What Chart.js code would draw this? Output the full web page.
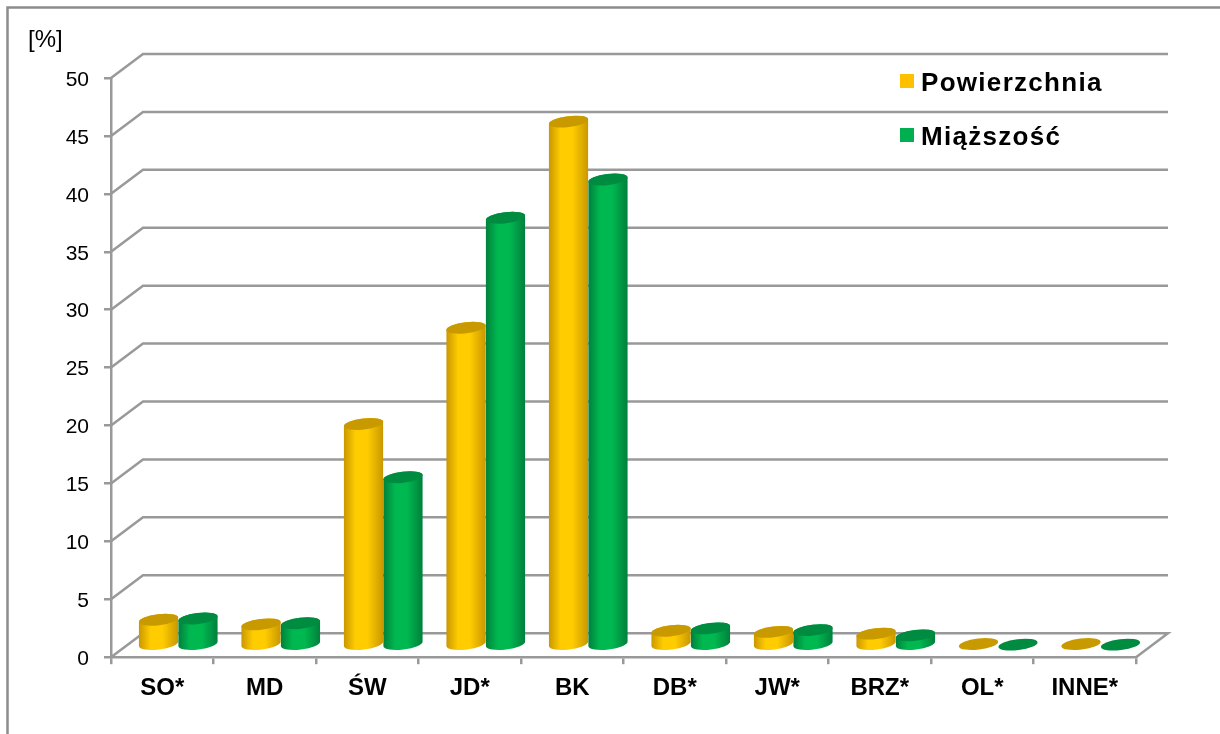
<!DOCTYPE html>
<html>
<head>
<meta charset="utf-8">
<style>
  html, body { margin: 0; padding: 0; background: #fff; }
  #wrap { position: absolute; left: 0; top: 0; width: 1220px; height: 734px; }
</style>
<script src="https://cdn.jsdelivr.net/npm/chart.js@4"></script>
</head>
<body>
<div id="wrap"><canvas id="woodChart" width="1220" height="734"></canvas></div>
<script>
const categories = ['SO*', 'MD', 'ŚW', 'JD*', 'BK', 'DB*', 'JW*', 'BRZ*', 'OL*', 'INNE*'];
const powierzchnia = [2.2, 1.8, 19.1, 27.4, 45.2, 1.25, 1.15, 1.0, 0.1, 0.1];
const miazszosc = [2.3, 1.9, 14.5, 36.9, 40.2, 1.45, 1.3, 0.85, 0.05, 0.05];
const yTicks = [0, 5, 10, 15, 20, 25, 30, 35, 40, 45, 50];
const unitLabel = '[%]';

const GRID = '#999999';
const DEPTH_X = 32, DEPTH_Y = 24; // shift of the back wall
const RY = 5.5, TILT = -0.12;

// back wall and floor, behind the bars
const wallPlugin = {
    id: 'wall',
    beforeDatasetsDraw(chart) {
        const { ctx, scales: { x, y } } = chart;
        ctx.save();
        ctx.strokeStyle = GRID;
        ctx.lineWidth = 2.5;
        yTicks.forEach(t => {
            const py = y.getPixelForValue(t);
            ctx.beginPath();
            ctx.moveTo(x.left, py);
            ctx.lineTo(x.left + DEPTH_X, py - DEPTH_Y);
            ctx.lineTo(x.right + DEPTH_X, py - DEPTH_Y);
            if (t === 0) ctx.lineTo(x.right, py);
            ctx.stroke();
        });
        ctx.restore();
    }
};

function cylinderGradient(ctx, bar, stops) {
    const half = bar.width / 2;
    const g = ctx.createLinearGradient(bar.x - half, 0, bar.x + half, 0);
    g.addColorStop(0, stops[0]);
    g.addColorStop(0.3, stops[1]);
    g.addColorStop(0.6, stops[1]);
    g.addColorStop(1, stops[0]);
    return g;
}

// bars stand in the middle of the floor and are drawn as cylinders
const cylinderPlugin = {
    id: 'cylinders',
    afterDatasetsDraw(chart) {
        const ctx = chart.ctx;
        const order = [];
        chart.data.datasets.forEach((ds, i) => {
            chart.getDatasetMeta(i).data.forEach((bar, j) => order.push({ ds, bar, j, i }));
        });
        order.sort((a, b) => a.j - b.j || a.i - b.i);
        ctx.save();
        ctx.translate(DEPTH_X / 2, -DEPTH_Y / 2);
        order.forEach(({ ds, bar }) => {
            const rx = bar.width / 2;
            ctx.beginPath();
            ctx.ellipse(bar.x, bar.y, rx, RY, TILT, Math.PI, 0, false);
            ctx.ellipse(bar.x, bar.base, rx, RY, TILT, 0, Math.PI, false);
            ctx.closePath();
            if (bar.base - bar.y > 3) {
                ctx.fillStyle = cylinderGradient(ctx, bar, ds.sideColors);
                ctx.fill();
            }
            ctx.beginPath();
            ctx.ellipse(bar.x, bar.y, rx, RY, TILT, 0, Math.PI * 2);
            ctx.fillStyle = ds.topColor;
            ctx.fill();
        });
        ctx.restore();
    }
};

// frame, unit label and the legend inside the wall
const decorPlugin = {
    id: 'decor',
    afterDraw(chart) {
        const ctx = chart.ctx;
        ctx.save();
        ctx.strokeStyle = '#8c8c8c';
        ctx.lineWidth = 2.5;
        ctx.beginPath();
        ctx.moveTo(7.5, 734);
        ctx.lineTo(7.5, 7.5);
        ctx.lineTo(1220, 7.5);
        ctx.stroke();

        ctx.fillStyle = '#000';
        ctx.textAlign = 'left';
        ctx.textBaseline = 'alphabetic';
        ctx.font = '24px "Liberation Sans"';
        ctx.fillText(unitLabel, 28, 47);

        ctx.font = 'bold 26px "Liberation Sans"';
        ctx.letterSpacing = '1.3px';
        chart.data.datasets.forEach((ds, i) => {
            const top = 74 + i * 54;
            ctx.fillStyle = ds.legendColor;
            ctx.fillRect(900, top, 14, 14);
            ctx.fillStyle = '#000';
            ctx.fillText(ds.label, 921, top + 17);
        });
        ctx.restore();
    }
};

new Chart(document.getElementById('woodChart'), {
    type: 'bar',
    data: {
        labels: categories,
        datasets: [
            {
                label: 'Powierzchnia',
                data: powierzchnia,
                backgroundColor: 'rgba(0,0,0,0)',
                legendColor: '#ffc000',
                sideColors: ['#c99700', '#ffcc00'],
                topColor: '#c89a00',
                categoryPercentage: 0.77,
                barPercentage: 1
            },
            {
                label: 'Miąższość',
                data: miazszosc,
                backgroundColor: 'rgba(0,0,0,0)',
                legendColor: '#00b050',
                sideColors: ['#00803c', '#00b850'],
                topColor: '#008c40',
                categoryPercentage: 0.77,
                barPercentage: 1
            }
        ]
    },
    options: {
        responsive: false,
        animation: false,
        layout: { padding: { left: 0, top: 78, right: 84, bottom: 21 } },
        plugins: { legend: { display: false }, tooltip: { enabled: false } },
        scales: {
            x: {
                grid: { drawOnChartArea: false, color: GRID, lineWidth: 2.5, tickLength: 7 },
                border: { color: GRID, width: 2.5 },
                ticks: { color: '#000', padding: 10, maxRotation: 0, font: { family: 'Liberation Sans', size: 24, weight: 'bold' } }
            },
            y: {
                afterFit(axis) { axis.width = 111; },
                min: 0,
                max: 50,
                grid: { drawOnChartArea: false, color: GRID, lineWidth: 2.5, tickLength: 7 },
                border: { color: GRID, width: 2.5 },
                ticks: { stepSize: 5, color: '#000', padding: 15, labelOffset: 2, font: { family: 'Liberation Sans', size: 21 } }
            }
        }
    },
    plugins: [wallPlugin, cylinderPlugin, decorPlugin]
});
</script>
</body>
</html>
